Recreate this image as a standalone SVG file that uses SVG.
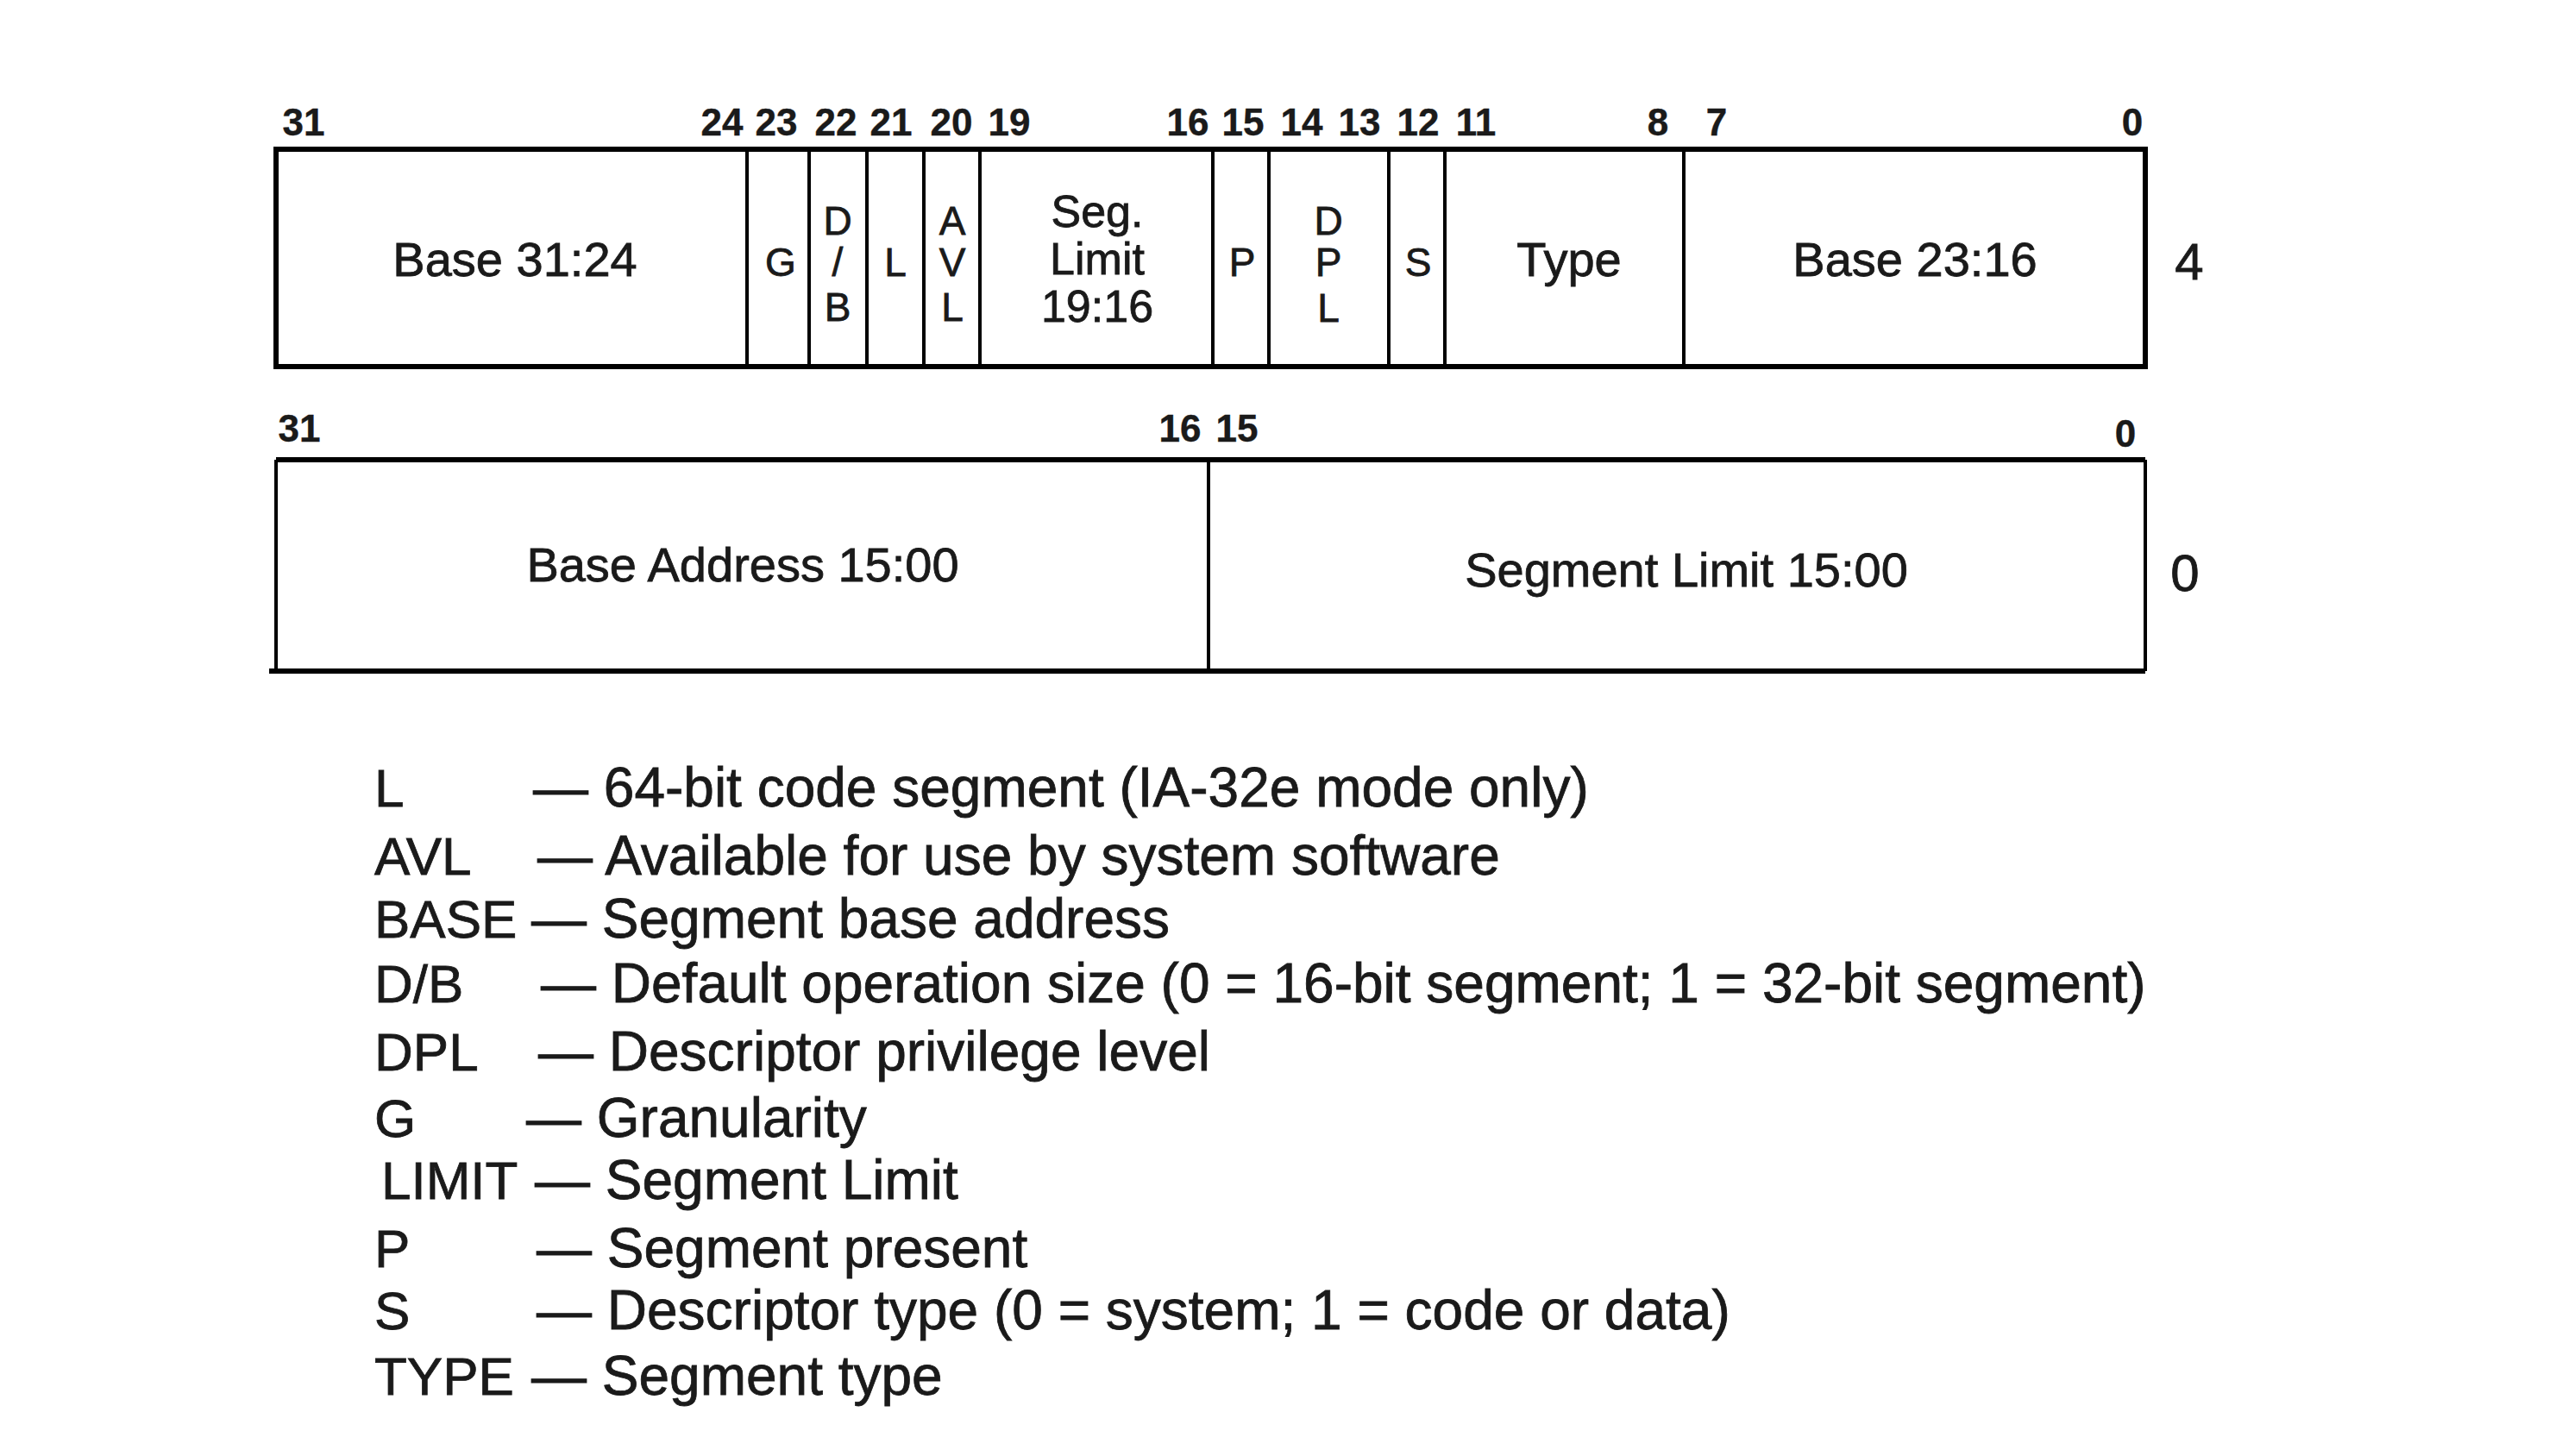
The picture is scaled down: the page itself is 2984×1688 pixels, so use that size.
<svg xmlns="http://www.w3.org/2000/svg" width="2984" height="1688" viewBox="0 0 2984 1688">
<style>
text{font-family:"Liberation Sans",Arial,sans-serif;fill:#1a1a1a;stroke:#1a1a1a;stroke-width:0.8px}
.bit{font-size:44px;font-weight:bold;text-anchor:middle;stroke-width:0.4px}
.big{font-size:56px;text-anchor:middle}
.mid{font-size:52px;text-anchor:middle}
.ltr{font-size:46px;text-anchor:middle}
.row{font-size:60px;text-anchor:middle}
.lab{font-size:62px}
.leg{font-size:64px}
.outer{fill:none;stroke:#000;stroke-width:6}
.div{stroke:#000;stroke-width:4}
</style>
<rect width="2984" height="1688" fill="#fff"/>

<g id="word4">
  <rect class="outer" x="320" y="173" width="2167" height="252"/>
  <g id="bits4">
    <text class="bit" x="352" y="157">31</text>
    <text class="bit" x="837" y="157">24</text>
    <text class="bit" x="900" y="157">23</text>
    <text class="bit" x="969" y="157">22</text>
    <text class="bit" x="1033" y="157">21</text>
    <text class="bit" x="1103" y="157">20</text>
    <text class="bit" x="1170" y="157">19</text>
    <text class="bit" x="1377" y="157">16</text>
    <text class="bit" x="1441" y="157">15</text>
    <text class="bit" x="1509" y="157">14</text>
    <text class="bit" x="1576" y="157">13</text>
    <text class="bit" x="1644" y="157">12</text>
    <text class="bit" x="1711" y="157">11</text>
    <text class="bit" x="1922" y="157">8</text>
    <text class="bit" x="1990" y="157">7</text>
    <text class="bit" x="2472" y="157">0</text>
  </g>
  <g id="f-base3124"><text class="big" x="597" y="320">Base 31:24</text></g>
  <g id="f-g"><line class="div" x1="866" y1="173" x2="866" y2="425"/><text class="ltr" x="905" y="320">G</text></g>
  <g id="f-db"><line class="div" x1="938" y1="173" x2="938" y2="425"/>
    <text class="ltr" x="971" y="272">D</text><text class="ltr" x="971" y="320">/</text><text class="ltr" x="971" y="372">B</text></g>
  <g id="f-l"><line class="div" x1="1005" y1="173" x2="1005" y2="425"/><text class="ltr" x="1038" y="320">L</text></g>
  <g id="f-avl"><line class="div" x1="1071" y1="173" x2="1071" y2="425"/>
    <text class="ltr" x="1104" y="272">A</text><text class="ltr" x="1104" y="320">V</text><text class="ltr" x="1104" y="372">L</text></g>
  <g id="f-seglimit"><line class="div" x1="1136" y1="173" x2="1136" y2="425"/>
    <text class="mid" x="1272" y="263">Seg.</text><text class="mid" x="1272" y="318">Limit</text><text class="mid" x="1272" y="373">19:16</text></g>
  <g id="f-p"><line class="div" x1="1406" y1="173" x2="1406" y2="425"/><text class="ltr" x="1440" y="320">P</text></g>
  <g id="f-dpl"><line class="div" x1="1471" y1="173" x2="1471" y2="425"/>
    <text class="ltr" x="1540" y="272">D</text><text class="ltr" x="1540" y="320">P</text><text class="ltr" x="1540" y="373">L</text></g>
  <g id="f-s"><line class="div" x1="1610" y1="173" x2="1610" y2="425"/><text class="ltr" x="1644" y="320">S</text></g>
  <g id="f-type"><line class="div" x1="1675" y1="173" x2="1675" y2="425"/><text class="big" x="1819" y="320">Type</text></g>
  <g id="f-base2316"><line class="div" x1="1952" y1="173" x2="1952" y2="425"/><text class="big" x="2220" y="320">Base 23:16</text></g>
  <text class="row" x="2538" y="324">4</text>
</g>

<g id="word0">
  <line x1="320" y1="533" x2="2487" y2="533" stroke="#000" stroke-width="6"/>
  <line x1="312" y1="778" x2="2487" y2="778" stroke="#000" stroke-width="6"/>
  <line class="div" x1="320" y1="533" x2="320" y2="778"/>
  <line class="div" x1="2487" y1="533" x2="2487" y2="778"/>
  <g id="bits0">
    <text class="bit" x="347" y="512">31</text>
    <text class="bit" x="1368" y="512">16</text>
    <text class="bit" x="1434" y="512">15</text>
    <text class="bit" x="2464" y="518">0</text>
  </g>
  <g id="f-baseaddr"><text class="big" x="861" y="674">Base Address 15:00</text></g>
  <g id="f-seglim"><line class="div" x1="1401" y1="533" x2="1401" y2="778"/><text class="big" x="1955" y="680">Segment Limit 15:00</text></g>
  <text class="row" x="2533" y="685">0</text>
</g>

<g id="legend">
  <text class="lab" x="434" y="935">L</text><text class="leg" x="618" y="935">— 64-bit code segment (IA-32e mode only)</text>
  <text class="lab" x="434" y="1014">AVL</text><text class="leg" x="623" y="1014">— Available for use by system software</text>
  <text class="lab" x="434" y="1087">BASE</text><text class="leg" x="616" y="1087">— Segment base address</text>
  <text class="lab" x="434" y="1162">D/B</text><text class="leg" x="627" y="1162">— Default operation size (0 = 16-bit segment; 1 = 32-bit segment)</text>
  <text class="lab" x="434" y="1241">DPL</text><text class="leg" x="624" y="1241">— Descriptor privilege level</text>
  <text class="lab" x="434" y="1318">G</text><text class="leg" x="610" y="1318">— Granularity</text>
  <text class="lab" x="442" y="1390">LIMIT</text><text class="leg" x="620" y="1390">— Segment Limit</text>
  <text class="lab" x="434" y="1469">P</text><text class="leg" x="622" y="1469">— Segment present</text>
  <text class="lab" x="434" y="1541">S</text><text class="leg" x="622" y="1541">— Descriptor type (0 = system; 1 = code or data)</text>
  <text class="lab" x="434" y="1617">TYPE</text><text class="leg" x="616" y="1617">— Segment type</text>
</g>
</svg>
